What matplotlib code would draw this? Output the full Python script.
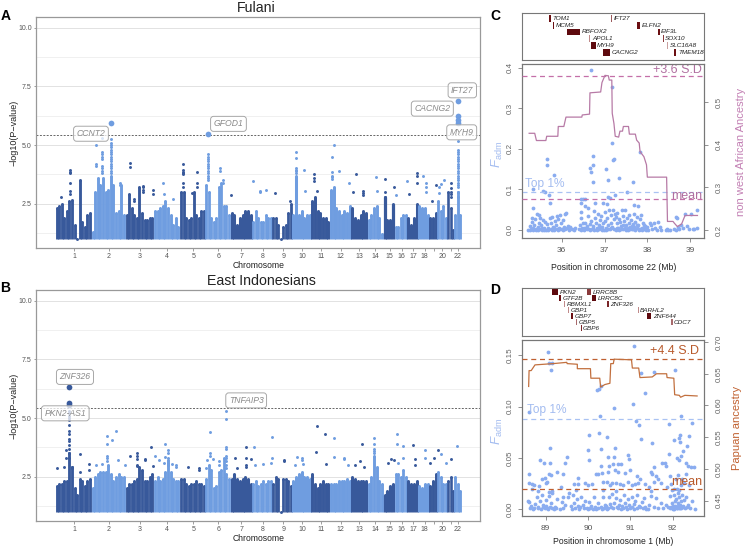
import matplotlib
matplotlib.use("Agg")
import matplotlib.pyplot as plt

plt.rcParams["font.family"] = ["Liberation Sans", "DejaVu Sans"]
plt.rcParams["mathtext.fontset"] = "custom"
plt.rcParams["mathtext.rm"] = "Liberation Sans"
plt.rcParams["mathtext.it"] = "Liberation Sans:italic"

W, H = 748, 546
DARK = "#38599b"
LIGHT = "#6f9de0"
BLUE = "#8aacf0"
ORANGE = "#c2703f"

# chromosome edges and tick places, genome axis
chrom_edges = [55, 91, 125, 153.5, 179.5, 205, 230, 252, 272, 292, 311, 329.7, 351, 367.3,
               383, 394.5, 407, 418, 429, 437, 447, 454, 461.7]
chrom_ticks = [74, 108.3, 139.7, 167, 193.3, 218, 241.3, 262.7, 283, 302.3, 321, 340.7,
               359.3, 375, 389.7, 401.7, 413.3, 424.7, 433.7, 442.3, 451, 458]
chrom_labels = ["1", "2", "3", "4", "5", "6", "7", "8", "9", "10", "11", "12", "13", "14",
                "15", "16", "17", "18", "", "20", "", "22"]

# top of the dense mass in each chromosome, -log10(P)
fulani_mass = [
    [2.3, 2.4, 2.5, 1.9, 2.2, 2.6, 2.65, 1.6, 1.0, 3.5, 1.7, 1.5, 2.0, 2.1],
    [1.3, 3.0, 3.6, 3.3, 3.6, 3.0, 3.1, 3.7, 3.3, 2.1, 2.2, 3.3, 2.0],
    [2.0, 2.9, 2.3, 2.0, 1.9, 3.2, 2.1, 1.8, 1.8, 1.9, 1.9],
    [2.2, 2.2, 2.3, 2.4, 2.6, 2.3, 2.0, 1.6, 1.9, 1.5],
    [3.0, 3.0, 1.9, 1.8, 1.9, 3.0, 2.0, 1.9, 2.2, 2.2],
    [3.3, 3.0, 1.9, 1.7, 1.9, 3.2, 3.4, 2.4, 2.4, 2.0],
    [2.1, 2.0, 1.6, 1.9, 2.0, 2.2, 2.2, 2.0],
    [1.7, 2.2, 1.9, 1.7, 1.7, 2.0, 1.9, 1.9],
    [1.9, 1.9, 1.6, 1.0, 1.5, 1.6, 2.1, 2.5],
    [2.0, 3.7, 2.0, 2.2, 1.9, 2.0, 2.0],
    [2.6, 2.8, 2.2, 2.1, 1.9, 1.9, 1.7],
    [3.1, 3.2, 2.3, 2.2, 2.0, 2.2, 2.1, 2.4],
    [2.3, 1.9, 1.8, 2.0, 2.2, 2.1],
    [1.8, 2.0, 2.3, 2.4, 1.9, 1.2],
    [2.8, 1.8, 1.8, 2.5],
    [1.5, 1.5, 1.9, 2.0, 2.0],
    [1.9, 1.6, 1.9, 2.5],
    [2.4, 2.3, 2.3, 2.0],
    [1.9, 1.9, 2.1],
    [2.6, 2.2, 2.4, 1.9],
    [3.0, 2.3, 1.4],
    [2.0, 3.0, 2.0],
]
indo_mass = [
    [2.1, 2.2, 2.2, 2.3, 2.3, 3.5, 2.9, 2.0, 1.7, 2.4, 2.3, 2.1, 2.3, 2.4],
    [2.0, 2.5, 2.6, 2.7, 2.7, 2.7, 3.0, 2.6, 2.3, 2.5, 2.6, 2.5, 2.5],
    [2.0, 2.2, 2.2, 2.3, 2.4, 2.9, 2.8, 2.3, 2.3, 2.5, 2.6],
    [2.3, 2.5, 2.3, 2.4, 2.7, 3.2, 2.7, 2.4, 2.3, 2.3],
    [2.4, 2.4, 2.2, 2.1, 2.2, 2.2, 2.3, 2.2, 2.2, 2.1],
    [2.4, 3.0, 2.8, 2.0, 2.1, 2.7, 2.8, 3.3, 2.6, 2.4],
    [2.4, 2.6, 2.4, 2.3, 2.4, 2.5, 2.4, 2.2],
    [2.2, 2.3, 2.1, 2.2, 2.3, 2.2, 2.3, 2.3],
    [2.2, 2.5, 2.4, 1.0, 2.4, 2.4, 2.3, 2.1],
    [2.3, 2.5, 2.6, 2.7, 2.5, 2.5, 2.4],
    [2.6, 2.2, 2.0, 2.2, 2.3, 2.2, 2.2],
    [2.2, 2.2, 2.2, 2.3, 2.3, 2.3, 2.4, 2.3],
    [2.5, 2.4, 2.3, 2.3, 2.3, 2.3],
    [2.2, 2.5, 3.4, 2.9, 2.3, 2.2],
    [1.7, 1.9, 2.1, 2.2],
    [2.6, 2.6, 2.5, 2.8, 2.5],
    [2.3, 2.2, 2.2, 2.3],
    [2.1, 2.0, 2.2, 2.2],
    [2.1, 2.3, 2.6],
    [2.7, 2.5, 2.2, 2.2],
    [2.3, 2.5, 1.9],
    [2.5, 2.2, 1.9],
]

# single points above the mass: (position, colour, values)
fulani_peaks = [
    (69.7, DARK, [3.95, 3.85, 3.8, 3.4, 3.05, 2.9]), (61, DARK, [2.8]),
    (110.7, LIGHT, [5.25, 5.1, 5.0, 4.9, 4.8, 4.7, 4.6, 4.5, 4.4, 4.3, 4.2, 4.1, 4.0, 3.9, 3.8]),
    (101.7, LIGHT, [5.3, 4.7, 4.6, 4.5, 4.4, 4.1, 4.0, 3.9, 3.8]), (96, LIGHT, [5.0, 4.2, 4.1]),
    (119.3, LIGHT, [3.4, 3.3]), (129.3, DARK, [4.25, 4.05]), (142.3, DARK, [3.25, 3.2, 3.1, 3.0]),
    (134, DARK, [2.7, 2.6]), (152.3, DARK, [3.1, 2.9]), (162.7, LIGHT, [3.4]), (172.7, LIGHT, [2.7]),
    (163.5, LIGHT, [2.9]), (183, DARK, [4.2, 3.95, 3.85, 3.8, 3.75, 3.4, 3.2]),
    (196.7, DARK, [3.85, 3.4, 3.2]), (191.7, DARK, [2.95]),
    (208, LIGHT, [4.6, 4.5, 4.4, 4.3, 4.2, 4.1, 4.0, 3.9, 3.8, 3.7, 3.6, 3.5]),
    (220, LIGHT, [4.0, 3.9]), (222.7, LIGHT, [3.5, 3.4]), (230.7, DARK, [2.85]),
    (253, LIGHT, [3.45]), (260, LIGHT, [3.05, 3.0]), (266, LIGHT, [3.1]), (275.3, DARK, [2.95]),
    (290, DARK, [2.6]), (296.3, LIGHT, [4.7, 4.45, 4.0, 3.95, 3.9, 3.8]), (304.3, LIGHT, [3.95]),
    (305.3, LIGHT, [3.05]), (314.3, DARK, [3.75, 3.6, 3.45]), (316.7, DARK, [3.05]),
    (334, LIGHT, [5.0]), (332.3, LIGHT, [4.5, 3.85, 3.7, 3.65, 3.55]), (339, LIGHT, [3.9]),
    (349, LIGHT, [3.4]), (356.3, DARK, [3.75]), (363.3, DARK, [3.05, 2.95, 2.85]), (353, DARK, [3.0]),
    (375.7, LIGHT, [3.65]), (376.7, LIGHT, [3.05]), (385.3, DARK, [3.55, 3.0, 2.8]),
    (394.3, DARK, [3.2]), (395.7, LIGHT, [2.85]), (406.7, LIGHT, [3.45]),
    (416.7, DARK, [3.8, 3.7, 3.4]), (409, DARK, [2.9]), (423.3, LIGHT, [3.7]),
    (425.7, LIGHT, [3.4, 3.2, 3.0]), (436.3, DARK, [3.3]), (431.7, DARK, [2.6]), (441, LIGHT, [3.35]),
    (444.3, LIGHT, [3.5]), (439, LIGHT, [3.2, 2.95]), (450.7, DARK, [3.4, 3.15, 3.0, 2.9, 2.8]),
    (458.3, LIGHT, [5.15, 4.8, 4.7, 4.6, 4.5, 4.4, 4.3, 4.2, 4.1, 4.0, 3.9, 3.8, 3.7, 3.6, 3.5, 3.4,
                    3.3, 3.2, 3.0, 2.8]),
]
indo_peaks = [
    (69, DARK, [5.3, 5.2, 5.1, 5.0, 4.9, 4.7, 4.45, 4.3, 4.1, 4.0, 3.85, 3.7, 3.5, 3.3]),
    (65.7, DARK, [3.65, 3.3]), (71.7, DARK, [2.9, 2.85]), (56.7, DARK, [2.85]), (63.3, DARK, [2.9]),
    (80, DARK, [3.45, 2.7]), (88.3, DARK, [3.05, 2.8]),
    (106.3, LIGHT, [4.25, 3.9, 3.4, 3.3, 3.15]), (111.7, LIGHT, [4.05]), (115.7, LIGHT, [4.45]),
    (117.3, LIGHT, [3.2]), (95.7, LIGHT, [3.0]), (101.7, LIGHT, [3.05]), (125, LIGHT, [3.0]),
    (129.3, DARK, [3.4]), (136.3, DARK, [3.5, 3.4, 3.25, 3.0, 2.95]), (145, DARK, [3.25, 3.2]),
    (150.7, DARK, [3.75]), (152.3, DARK, [2.95]), (154.7, LIGHT, [3.4]), (158.7, LIGHT, [3.2]),
    (163.3, LIGHT, [3.1]), (164.7, LIGHT, [3.9, 3.35]), (167.3, LIGHT, [3.65, 3.5, 3.3, 3.1, 3.0]),
    (171.3, LIGHT, [3.05]), (175.3, LIGHT, [3.0, 2.9]), (188.3, DARK, [2.9]), (199, DARK, [2.85, 2.8]),
    (205.7, LIGHT, [2.85]), (210.3, LIGHT, [4.4, 3.5, 3.4]),
    (225.7, LIGHT, [5.3, 4.95, 3.75, 3.7, 3.4, 3.3, 3.15, 3.0, 2.85]), (207.3, LIGHT, [3.2]),
    (213.3, LIGHT, [3.25]), (219, LIGHT, [3.15, 3.0]), (235.3, DARK, [3.3]),
    (246.3, DARK, [3.75, 3.3, 3.0, 2.9]), (237.3, DARK, [2.85]), (254, LIGHT, [3.75]),
    (251, DARK, [3.25]), (255, LIGHT, [3.0]), (263.3, LIGHT, [3.05]), (271.7, LIGHT, [4.2, 3.3]),
    (271, LIGHT, [3.1]), (284.3, DARK, [3.2, 3.15]), (296.7, LIGHT, [3.35]), (302.3, LIGHT, [3.3, 3.2]),
    (295, LIGHT, [3.0]), (303, LIGHT, [3.05]), (316, DARK, [3.55]), (317.3, DARK, [4.65]),
    (325, DARK, [4.3]), (326.3, DARK, [3.05]), (334.3, LIGHT, [4.15, 3.35]),
    (344.3, LIGHT, [3.3, 3.25]), (347.7, LIGHT, [3.0]), (361.7, DARK, [3.9]), (360.3, DARK, [3.15]),
    (355, DARK, [3.0]), (364, DARK, [2.9]), (374.3, LIGHT, [4.15, 3.9, 3.7, 3.6, 3.5]),
    (388.3, DARK, [3.1]), (391, DARK, [3.25]), (394.3, DARK, [3.2]), (397.3, LIGHT, [4.3, 3.9]),
    (402.7, LIGHT, [3.8, 3.3]), (398.3, LIGHT, [3.1]), (413.3, DARK, [3.85]), (415, DARK, [3.25, 3.0]),
    (425, LIGHT, [3.65, 3.3]), (430.3, DARK, [3.1]), (434.3, DARK, [3.3]), (437.7, DARK, [3.65]),
    (441.3, LIGHT, [3.45]), (445.7, LIGHT, [3.1]), (450.7, DARK, [3.25]), (457.3, LIGHT, [3.8]),
]

# lead variants drawn larger
fulani_lead = [(110.7, LIGHT, 5.95), (208, LIGHT, 5.45), (458.3, LIGHT, 6.87), (458.3, LIGHT, 6.25),
               (458.3, LIGHT, 6.05), (458.3, LIGHT, 5.95)]
indo_lead = [(69, DARK, 6.3), (69, DARK, 5.65), (69, DARK, 5.55)]

fulani_labels = [("CCNT2", 90.7, 5.48), ("GFOD1", 228.3, 5.9), ("IFT27", 462.3, 7.33),
                 ("CACNG2", 432.3, 6.55), ("MYH9", 461.7, 5.54)]
indo_labels = [("ZNF326", 74.7, 6.75), ("PKN2-AS1", 65, 5.2), ("TNFAIP3", 246, 5.75)]

# gene tracks: name, start, end, row, colour
genes_c = [("TOM1", 35.70, 35.75, 0, "#6b0f12"), ("MCM5", 35.80, 35.83, 1, "#6b0f12"),
           ("RBFOX2", 36.13, 36.43, 2, "#5e0a0e"), ("APOL1", 36.64, 36.67, 3, "#c08a8a"),
           ("MYH9", 36.68, 36.79, 4, "#5e0a0e"), ("CACNG2", 36.96, 37.12, 5, "#5e0a0e"),
           ("IFT27", 37.16, 37.18, 0, "#9c5a5c"), ("ELFN2", 37.77, 37.84, 1, "#6b0f12"),
           ("EIF3L", 38.25, 38.29, 2, "#6b0f12"), ("SOX10", 38.37, 38.38, 3, "#8a3a3c"),
           ("SLC16A8", 38.47, 38.49, 4, "#c9a0a0"), ("TMEM184", 38.62, 38.68, 5, "#6b0f12")]
genes_d = [("PKN2", 89.16, 89.30, 0, "#5e0a0e"), ("GTF2B", 89.32, 89.36, 1, "#6b0f12"),
           ("RBMXL1", 89.44, 89.47, 2, "#c08a8a"), ("GBP1", 89.52, 89.55, 3, "#c08a8a"),
           ("GBP7", 89.60, 89.65, 4, "#6b0f12"), ("GBP5", 89.72, 89.75, 5, "#a86a6c"),
           ("GBP6", 89.83, 89.85, 6, "#7a2528"), ("LRRC8B", 89.99, 90.07, 0, "#8a3a3c"),
           ("LRRC8C", 90.10, 90.19, 1, "#5e0a0e"), ("ZNF326", 90.46, 90.50, 2, "#7a2528"),
           ("BARHL2", 91.18, 91.20, 3, "#c08a8a"), ("ZNF644", 91.39, 91.50, 4, "#5e0a0e"),
           ("CDC7", 91.97, 92.00, 5, "#a86a6c")]

# panel C
c_line_x = [35.24, 35.37, 35.41, 35.63, 35.65, 35.91, 35.92, 36.05, 36.1, 36.47, 36.48, 36.65, 36.66,
            36.91, 36.94, 37.01, 37.09, 37.11, 37.17, 37.18, 37.22, 37.25, 37.33, 37.36, 37.42, 37.44,
            37.56, 37.58, 37.72, 37.75, 37.81, 37.83, 37.92, 37.98, 38.0, 38.45, 38.47, 38.6, 38.63,
            38.7, 38.8, 38.88, 39.17]
c_line_y = [.427, .427, .41, .41, .42, .42, .443, .443, .465, .465, .47, .472, .522, .524, .546, .563,
            .562, .552, .552, .474, .45, .42, .418, .432, .432, .443, .443, .425, .425, .411, .404,
            .384, .372, .353, .324, .324, .22, .22, .216, .208, .214, .234, .234]
c_points = [(36.68, .393), (37.17, .351), (37.17, .215), (37.82, .193), (35.66, .174), (35.66, .159),
            (37.19, .173), (37.21, .176), (36.72, .182), (36.73, .161), (36.66, .152), (36.69, .142),
            (37.03, .15), (35.83, .135), (37.34, .127), (37.07, .123), (37.67, .119), (36.72, .117),
            (35.33, .101), (35.56, .096), (35.61, .094), (35.7, .086), (37.53, .093), (37.25, .085),
            (37.07, .082), (37.13, .078), (35.72, .067), (36.45, .077), (36.49, .077), (36.55, .076),
            (36.44, .066), (36.54, .06), (36.62, .053), (36.78, .066), (36.97, .066), (37.05, .064),
            (37.69, .062), (37.79, .06), (35.34, .055), (38.69, .03), (39.02, .04),
            (35.22, .0), (35.25, .01), (35.28, .003), (35.3, .02), (35.31, .03), (35.33, .005),
            (35.36, .012), (35.38, .028), (35.4, .0), (35.42, .04), (35.44, .008), (35.46, .038),
            (35.47, .018), (35.49, .002), (35.5, .03), (35.52, .012), (35.55, .004), (35.56, .025),
            (35.58, .006), (35.6, .02), (35.63, .001), (35.65, .014), (35.67, .006), (35.72, .03),
            (35.74, .002), (35.76, .018), (35.78, .032), (35.8, .008), (35.82, .0), (35.84, .022),
            (35.86, .012), (35.88, .003), (35.9, .035), (35.92, .028), (35.94, .006), (35.96, .038),
            (35.98, .016), (36.0, .002), (36.03, .025), (36.05, .008), (36.08, .04), (36.1, .042),
            (36.12, .004), (36.15, .01), (36.18, .001), (36.2, .007), (36.24, .002), (36.28, .0),
            (36.31, .004), (36.4, .003), (36.42, .012), (36.44, .03), (36.45, .045), (36.47, .004),
            (36.5, .016), (36.52, .001), (36.55, .018), (36.57, .006), (36.6, .01), (36.62, .035),
            (36.64, .002), (36.67, .014), (36.69, .022), (36.72, .005), (36.75, .046), (36.76, .001),
            (36.78, .03), (36.8, .018), (36.82, .006), (36.84, .04), (36.86, .012), (36.88, .002),
            (36.9, .025), (36.92, .034), (36.94, .008), (36.96, .016), (36.98, .001), (37.0, .045),
            (37.02, .022), (37.04, .005), (37.06, .03), (37.08, .012), (37.1, .05), (37.12, .002),
            (37.14, .036), (37.16, .018), (37.18, .008), (37.2, .048), (37.22, .026), (37.24, .04),
            (37.26, .001), (37.27, .033), (37.29, .016), (37.3, .043), (37.32, .005), (37.34, .028),
            (37.36, .02), (37.38, .01), (37.4, .05), (37.42, .035), (37.44, .003), (37.46, .022),
            (37.48, .05), (37.5, .012), (37.52, .03), (37.54, .001), (37.56, .018), (37.58, .038),
            (37.6, .007), (37.62, .025), (37.64, .002), (37.66, .015), (37.68, .04), (37.7, .008),
            (37.72, .02), (37.75, .004), (37.77, .032), (37.79, .012), (37.81, .001), (37.83, .028),
            (37.85, .036), (37.87, .006), (37.89, .016), (37.92, .002), (37.95, .01), (37.98, .004),
            (38.02, .001), (38.06, .018), (38.09, .012), (38.12, .003), (38.15, .016), (38.18, .004),
            (38.22, .0), (38.26, .02), (38.3, .008), (38.33, .0), (38.43, .0), (38.46, .002),
            (38.49, .0), (38.52, .0), (38.62, .002), (38.66, .032), (38.68, .0), (38.71, .008),
            (38.74, .002), (38.78, .012), (38.84, .004), (38.88, .04), (38.92, .01), (38.97, .002),
            (39.06, .002), (39.1, .003), (39.15, .05), (39.16, .006),
            (35.26, .001), (35.34, .0), (35.41, .003), (35.45, .001), (35.53, .0), (35.59, .001),
            (35.69, .0), (35.77, .001), (35.83, .005), (35.91, .001), (35.97, .003), (36.02, .0),
            (36.07, .002), (36.46, .001), (36.53, .005), (36.58, .002), (36.65, .0), (36.7, .002),
            (36.74, .011), (36.83, .001), (36.89, .008), (36.95, .0), (37.03, .001), (37.09, .002),
            (37.15, .004), (37.21, .002), (37.28, .006), (37.33, .001), (37.39, .002), (37.43, .012),
            (37.47, .004), (37.51, .001), (37.55, .006), (37.59, .002), (37.63, .01), (37.67, .002),
            (37.71, .001), (37.76, .012), (37.8, .003), (37.84, .002), (37.88, .0), (37.93, .012),
            (37.96, .001), (38.0, .007)]

# panel D
d_line_x = [88.6, 88.61, 88.66, 88.75, 89.18, 89.5, 89.51, 89.75, 89.75, 90.06, 90.07, 90.28, 90.3,
            90.4, 90.52, 90.54, 90.6, 90.62, 91.03, 91.05, 91.2, 91.23, 91.52, 91.62, 91.86, 91.87,
            92.03, 92.05, 92.16, 92.19, 92.29, 92.58]
d_line_y = [.63, .655, .655, .664, .666, .668, .666, .665, .658, .658, .643, .643, .629, .633, .635,
            .666, .666, .673, .672, .659, .659, .644, .645, .65, .65, .644, .643, .617, .616, .613,
            .616, .615]
d_points = [(91.09, .159), (89.05, .153), (89.09, .1425), (89.14, .1425), (89.13, .136), (92.05, .136),
            (91.57, .134), (91.25, .133), (90.32, .12), (90.22, .1165), (90.26, .1175), (91.35, .113),
            (91.06, .1025), (90.61, .0987), (88.61, .095), (90.28, .091), (92.19, .0906), (91.13, .0857),
            (91.21, .0825), (91.92, .0834), (92.45, .084), (90.27, .074), (90.03, .072), (90.45, .07),
            (91.25, .069), (92.17, .072), (92.16, .0695), (92.04, .068), (92.39, .071), (91.52, .065),
            (92.17, .066), (89.1, .06), (90.0, .058), (90.32, .059), (90.65, .06), (92.35, .062),
            (92.24, .0565), (91.92, .0535), (90.95, .053), (89.5, .0506), (88.87, .048), (90.48, .0506),
            (90.61, .0506), (90.03, .0477), (90.98, .049), (92.1, .05), (92.2, .052), (92.15, .048),
            (88.96, .045), (89.11, .045), (89.47, .045), (90.32, .042), (90.6, .044), (90.7, .044),
            (90.78, .044), (90.5, .042), (91.56, .041), (91.76, .045), (91.84, .042), (91.82, .045),
            (92.31, .045), (92.37, .042), (92.43, .041), (92.5, .041), (88.6, .034), (88.92, .03),
            (88.99, .031), (89.08, .034), (89.12, .033), (89.28, .036), (89.4, .034), (89.76, .031),
            (90.2, .034), (90.25, .034), (90.33, .035), (90.48, .036), (90.63, .038), (90.72, .036),
            (90.88, .035), (91.0, .038), (91.15, .032), (91.24, .03), (91.48, .036), (91.52, .034),
            (91.6, .032), (91.66, .03), (91.95, .032), (92.08, .03), (92.13, .033), (92.22, .03),
            (92.32, .034), (88.62, .026), (88.68, .025), (88.72, .024), (88.85, .023), (89.0, .026),
            (89.04, .027), (89.36, .022), (89.68, .025), (89.77, .025), (89.93, .026), (90.0, .024),
            (90.1, .025), (90.36, .027), (90.46, .027), (90.52, .024), (90.56, .026), (90.66, .026),
            (90.76, .025), (90.82, .024), (90.94, .027), (91.04, .024), (91.12, .025), (91.18, .026),
            (91.35, .025), (91.44, .022), (91.55, .027), (91.72, .026), (91.87, .022), (91.97, .025),
            (92.19, .024), (92.27, .026), (92.4, .024), (88.67, .02), (88.81, .018), (89.07, .017),
            (89.14, .018), (89.73, .019), (90.36, .019), (90.67, .018), (91.48, .018), (91.98, .019),
            (92.04, .02), (92.1, .02), (92.15, .019), (88.58, .008), (88.62, .007), (88.66, .003),
            (88.7, .0), (88.75, .005), (88.79, .012), (88.83, .002), (88.87, .008), (88.91, .014),
            (88.95, .004), (89.0, .009), (89.04, .001), (89.08, .013), (89.12, .006), (89.16, .016),
            (89.22, .002), (89.28, .01), (89.34, .0), (89.38, .007), (89.42, .012), (89.47, .004),
            (89.52, .012), (89.56, .016), (89.6, .003), (89.65, .014), (89.7, .001), (89.74, .01),
            (89.8, .0), (89.84, .012), (89.88, .004), (89.93, .008), (89.98, .001), (90.03, .007),
            (90.08, .003), (90.14, .012), (90.2, .0), (90.25, .006), (90.3, .002), (90.35, .012),
            (90.4, .004), (90.45, .0), (90.5, .012), (90.55, .002), (90.58, .015), (90.62, .006),
            (90.66, .011), (90.7, .001), (90.75, .009), (90.8, .003), (90.85, .014), (90.9, .002),
            (90.94, .01), (90.98, .004), (91.03, .012), (91.08, .0), (91.12, .008), (91.17, .014),
            (91.22, .002), (91.27, .007), (91.32, .011), (91.38, .0), (91.44, .004), (91.5, .013),
            (91.55, .002), (91.6, .011), (91.66, .001), (91.72, .006), (91.78, .001), (91.84, .004),
            (91.9, .002), (91.94, .013), (91.98, .006), (92.0, .0), (92.03, .014), (92.05, .003),
            (92.08, .01), (92.1, .001), (92.12, .016), (92.14, .006), (92.16, .012), (92.18, .001),
            (92.2, .008), (92.22, .014), (92.25, .003), (92.28, .009), (92.32, .012), (92.36, .004),
            (92.42, .001), (92.47, .008), (92.53, .0),
            (88.64, .001), (88.73, .001), (88.81, .001), (88.89, .0), (88.93, .002), (88.98, .001),
            (89.02, .003), (89.06, .0), (89.1, .002), (89.14, .001), (89.2, .0), (89.25, .001),
            (89.4, .001), (89.62, .0), (89.68, .006), (89.77, .003), (89.82, .002), (89.9, .001),
            (90.0, .0), (90.06, .001), (90.11, .0), (90.17, .002), (90.23, .001), (90.33, .0),
            (90.38, .001), (90.43, .003), (90.48, .001), (90.53, .005), (90.6, .001), (90.68, .002),
            (90.73, .004), (90.78, .0), (90.83, .001), (90.88, .006), (90.92, .0), (91.0, .001),
            (91.05, .002), (91.1, .005), (91.15, .001), (91.2, .003), (91.3, .001), (91.36, .002),
            (91.42, .0), (91.93, .001), (91.96, .002), (91.99, .001), (92.02, .003), (92.04, .0),
            (92.06, .008), (92.09, .002), (92.11, .001), (92.13, .003), (92.15, .001), (92.17, .004),
            (92.19, .002), (92.21, .001), (92.24, .002), (92.3, .001), (92.34, .002)]


def panel(l, t, r, b):
    return fig.add_axes([l / W, 1 - b / H, (r - l) / W, (b - t) / H])


def manhattan(ax, mass, peaks, lead, labels):
    for c, tops in enumerate(mass):
        color = DARK if c % 2 == 0 else LIGHT
        step = (chrom_edges[c + 1] - chrom_edges[c]) / len(tops)
        xs = [chrom_edges[c] + (i + 0.5) * step for i in range(len(tops))]
        ax.vlines(xs, 0.98, tops, color=color, lw=step * 0.8, zorder=2)
        ax.scatter(xs, tops, s=4.5, color=color, lw=0, zorder=2)
    for x, color, ys in peaks:
        ax.scatter([x] * len(ys), ys, s=4.5, color=color, lw=0, zorder=3)
    for x, color, y in lead:
        ax.scatter([x], [y], s=17, color=color, lw=0, zorder=4)
    ax.axhline(5.43, color="#666666", lw=0.7, ls=(0, (2, 1.5)), zorder=1)
    for name, x, y in labels:
        ax.text(x, y, name, ha="center", va="center", style="italic", fontsize=6.2, color="#8a8a8a",
                zorder=5, bbox=dict(boxstyle="round,pad=0.35", fc=(1, 1, 1, 0.75), ec="#a8a8a8", lw=0.7))
    ax.set_xlim(36, 480)
    ax.set_ylim(0.6, 10.44)
    ax.set_yticks([2.5, 5.0, 7.5, 10.0])
    ax.set_yticklabels(["2.5", "5.0", "7.5", "10.0"])
    ax.set_yticks([1.25, 3.75, 6.25, 8.75], minor=True)
    ax.set_xticks(chrom_ticks)
    ax.set_xticklabels(chrom_labels)
    ax.grid(axis="y", which="major", color="#e2e2e2", lw=0.7, zorder=0)
    ax.grid(axis="y", which="minor", color="#eeeeee", lw=0.6, zorder=0)
    ax.set_axisbelow(True)
    ax.tick_params(which="minor", length=0)
    ax.tick_params(which="major", length=1.8, width=0.5, color="#777777", labelsize=5, labelcolor="#555555", pad=1.5)
    for s in ax.spines.values():
        s.set_color("#999999")
        s.set_linewidth(0.9)
    ax.set_xlabel("Chromosome", fontsize=6.2, labelpad=1, color="#222222")
    ax.set_ylabel("\u2212log10(P\u2212value)", fontsize=6.5, labelpad=-0.5, color="#222222")


def gene_track(ax, genes, xlim, ylim):
    for name, x0, x1, row, color in genes:
        ax.barh(row, x1 - x0, left=x0, height=1.0, color=color, lw=0)
        ax.text(x1 + 0.035, row, name, style="italic", fontsize=4.6, va="center", color="#222222", clip_on=True)
    ax.set_xlim(*xlim)
    ax.set_ylim(*ylim)
    ax.set_xticks([])
    ax.set_yticks([])
    for s in ax.spines.values():
        s.set_color("#777777")
        s.set_linewidth(0.8)


def admixture(ax, points, line_x, line_y, color, xlim, ylim, ylim2, left_ticks, right_ticks,
              sd_level, mean_level, top_level, sd_text, sd_y, mean_y, top_y, sd_right, mean_right, top_left,
              xticks, xlabel, xlabel_pad, sd_color, dash_color):
    ax.scatter([p[0] for p in points], [p[1] for p in points], s=7.5, color=BLUE, lw=0, zorder=2)
    ax.axhline(top_level, color="#a9c2f3", lw=0.9, ls=(0, (4, 3)), zorder=3)
    ax.text(top_left, top_y, "Top 1%", color="#a3bcf0", fontsize=8.6, va="center", zorder=5)
    ax.text(sd_right, sd_y, sd_text, color=sd_color, fontsize=9, va="center", ha="right", zorder=5)
    ax.text(mean_right, mean_y, "mean", color=sd_color, fontsize=9, va="center", ha="right", zorder=5)
    ax.set_xlim(*xlim)
    ax.set_ylim(*ylim)
    ax.set_xticks(xticks)
    ax.set_yticks(left_ticks)
    ax.tick_params(axis="y", labelrotation=90, length=3, width=0.5, color="#666666", labelsize=5.8, labelcolor="#666666", pad=3.5)
    ax.tick_params(axis="x", length=3, width=0.5, color="#666666", labelsize=6, labelcolor="#555555", pad=3.5)
    for lab in ax.get_yticklabels():
        lab.set_va("center")
    ax.set_xlabel(xlabel, fontsize=6.2, color="#222222", labelpad=xlabel_pad)
    ax2 = ax.twinx()
    ax2.plot(line_x, line_y, color=color, lw=0.9, zorder=4)
    ax2.axhline(sd_level, color=dash_color, lw=0.9, ls=(0, (4, 3)), zorder=3)
    ax2.axhline(mean_level, color=dash_color, lw=0.9, ls=(0, (4, 3)), zorder=3)
    ax2.set_ylim(*ylim2)
    ax2.set_yticks(right_ticks)
    ax2.tick_params(axis="y", labelrotation=90, length=3, width=0.5, color="#666666", labelsize=5.8, labelcolor="#666666", pad=5.5)
    for lab in ax2.get_yticklabels():
        lab.set_va("center")
    for a in (ax, ax2):
        for s in a.spines.values():
            s.set_color("#777777")
            s.set_linewidth(0.8)
    return ax2


fig = plt.figure(figsize=(W / 100, H / 100), dpi=100)
fig.patch.set_facecolor("white")

ax_a = panel(36.3, 17.3, 480, 248.3)
manhattan(ax_a, fulani_mass, fulani_peaks, fulani_lead, fulani_labels)
ax_b = panel(36.3, 290.3, 480, 521.3)
manhattan(ax_b, indo_mass, indo_peaks, indo_lead, indo_labels)

xlim_c = (35.08, 39.33)
xlim_d = (88.45, 92.75)
gene_track(panel(522.3, 13.3, 704.3, 60), genes_c, xlim_c, (6.13, -0.735))
gene_track(panel(522.3, 288, 704.3, 336.3), genes_d, xlim_d, (7.37, -0.726))

ax_c = panel(522.3, 64.3, 704.3, 238.3)
admixture(ax_c, c_points, c_line_x, c_line_y, "#b77aa6", xlim_c, (-0.0205, 0.408), (0.1804, 0.589),
          [0.0, 0.1, 0.2, 0.3, 0.4], [0.2, 0.3, 0.4, 0.5], 0.561, 0.272, 0.0945, "+3.6 S.D", 0.393, 0.0838,
          0.1134, 39.27, 39.29, 35.14, [36, 37, 38, 39], "Position in chromosome 22 (Mb)", 6.5,
          "#b06fa0", "#c46fa8")
ax_d = panel(522.3, 339.7, 704.3, 516.3)
ax_d2 = admixture(ax_d, d_points, d_line_x, d_line_y, ORANGE, xlim_d, (-0.0068, 0.1653), (0.4253, 0.7037),
                  [0.0, 0.05, 0.10, 0.15], [0.45, 0.50, 0.55, 0.60, 0.65, 0.70], 0.674, 0.4686, 0.0877, "+4.4 S.D",
                  0.1545, 0.0263, 0.0964, 92.63, 92.71, 88.57, [89, 90, 91, 92], "Position in chromosome 1 (Mb)", 3.5,
                  "#b8592a", "#bf5f30")
ax_d.set_yticks([0.0, 0.05, 0.10, 0.15])
ax_d.set_yticklabels(["0.00", "0.05", "0.10", "0.15"], va="center")
ax_d2.set_yticks([0.45, 0.50, 0.55, 0.60, 0.65, 0.70])
ax_d2.set_yticklabels(["0.45", "0.50", "0.55", "0.60", "0.65", "0.70"], va="center")

fig.text(256 / W, 1 - 8 / H, "Fulani", fontsize=10.2, ha="center", va="center", color="#222222")
fig.text(261 / W, 1 - 281 / H, "East Indonesians", fontsize=10.2, ha="center", va="center", color="#222222")
for letter, x, y in [("A", 5.5, 16), ("B", 5.5, 288), ("C", 495.5, 16), ("D", 495.5, 290)]:
    fig.text(x / W, 1 - y / H, letter, fontsize=10, fontweight="bold", ha="center", va="center")

fadm = r"$\mathit{F}_{\mathrm{adm}}$"
fig.text(497 / W, 1 - 154 / H, fadm, fontsize=9.5, color="#a3bcf0", rotation=90, ha="center", va="center")
fig.text(497 / W, 1 - 431 / H, fadm, fontsize=9.5, color="#a3bcf0", rotation=90, ha="center", va="center")
fig.text(740.5 / W, 1 - 151.7 / H, "non west African Ancestry", fontsize=8, color="#c27fb3", rotation=90,
         ha="center", va="center")
fig.text(737 / W, 1 - 428 / H, "Papuan ancestry", fontsize=8, color="#c0602f", rotation=90, ha="center", va="center")

fig.savefig("out.png", dpi=100)
